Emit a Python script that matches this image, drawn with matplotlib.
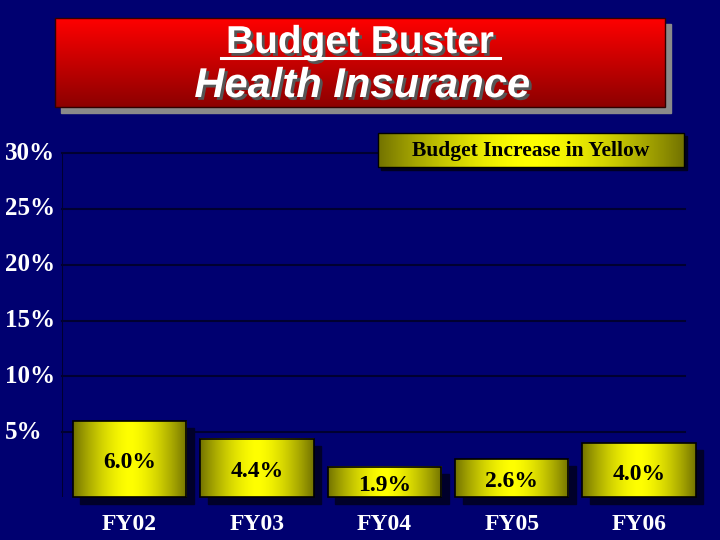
import numpy as np
import matplotlib.pyplot as plt
import matplotlib.patheffects as pe
from matplotlib.patches import Rectangle

years = ["FY02", "FY03", "FY04", "FY05", "FY06"]
increase = [6.0, 4.4, 1.9, 2.6, 4.0]
yticks = [5, 10, 15, 20, 25, 30]
ytick_labels = ["5%", "10%", "15%", "20%", "25%", "30%"]

BG = "#000070"
GRID = "#000030"
W, H = 720, 540
FLOOR = -0.8  # pseudo-3D floor below zero

fig = plt.figure(figsize=(7.2, 5.4), dpi=100)
fig.patch.set_facecolor(BG)


def px_axes(x0, y0, x1, y1):
    # pixel box (top-left origin) -> figure fraction
    return [x0 / W, 1 - y1 / H, (x1 - x0) / W, (y1 - y0) / H]


def yellow_grad(n=256):
    t = np.linspace(-1, 1, n)
    k = 1 - 0.55 * np.abs(t) ** 1.6
    img = np.zeros((2, n, 3))
    img[..., 0] = k
    img[..., 1] = k
    return img


serif = dict(family="Liberation Serif", fontweight="bold")

# ---- chart ----
ax = fig.add_axes(px_axes(62, 153, 685, 497))
ax.set_facecolor(BG)
for s in ax.spines.values():
    s.set_visible(False)
ax.axvline(-0.53, color=GRID, lw=1.5)
for t in yticks:
    ax.axhline(t, color=GRID, lw=1.5, zorder=0, clip_on=False)
ax.set_yticks([])
ax.set_xticks(range(len(years)))
ax.set_xticklabels(years, **serif)
ax.tick_params(axis="x", length=0, pad=12, colors="white", labelsize=17)
for t, lab in zip(yticks, ytick_labels):
    ax.annotate(lab, xy=(5, t), xycoords=("figure pixels", "data"), color="white",
                fontsize=18, ha="left", va="center", annotation_clip=False, **serif)

bw = 0.89
grad = yellow_grad()
for i, v in enumerate(increase):
    x0 = i - bw / 2
    h = v - FLOOR
    ax.add_patch(Rectangle((x0 + 0.06, FLOOR - 0.6), bw, h, color="#00002a",
                           zorder=2, clip_on=False))
    r = Rectangle((x0, FLOOR), bw, h, facecolor="none", edgecolor="black", lw=1.2,
                  zorder=4, clip_on=False)
    ax.add_patch(r)
    bim = ax.imshow(grad, extent=(x0, x0 + bw, FLOOR, v), aspect="auto", zorder=3)
    bim.set_clip_on(False)
    bim.set_clip_path(r)
    ax.text(i, (v + FLOOR) / 2 - 0.35, f"{v:.1f}%", color="black", fontsize=17,
            ha="center", va="center", zorder=5, **serif)
ax.set_xlim(-0.53, 4.36)
ax.set_ylim(FLOOR, 30)

# ---- overlay: title and legend box ----
tax = fig.add_axes([0, 0, 1, 1])
tax.set_xlim(0, W)
tax.set_ylim(H, 0)
tax.axis("off")
tax.patch.set_alpha(0)

tax.add_patch(Rectangle((61, 24), 610, 89, color="#8a8a8a", zorder=1))
red = np.zeros((256, 2, 3))
red[..., 0] = np.linspace(1.0, 0.55, 256)[:, None]
im = tax.imshow(red, extent=(55, 665, 107, 18), aspect="auto", zorder=2)
box = Rectangle((55, 18), 610, 89, facecolor="none", edgecolor="#300000", lw=1, zorder=3)
tax.add_patch(box)
im.set_clip_path(box)

shadow = [pe.SimplePatchShadow(offset=(2, -2), shadow_rgbFace="#555555", alpha=1.0),
          pe.Normal()]
tax.text(360, 43, "Budget Buster", color="white", fontsize=28, fontweight="bold",
         family="Liberation Sans", ha="center", va="center", zorder=5,
         path_effects=shadow)
tax.text(362, 86, "Health Insurance", color="white", fontsize=30, fontweight="bold",
         style="italic", family="Liberation Sans", ha="center", va="center", zorder=5,
         path_effects=shadow)
tax.plot([221, 500], [58, 58], color="white", lw=2.2, zorder=5)

# legend box
tax.add_patch(Rectangle((381, 136), 306, 34, color="#000020", zorder=1))
lim = tax.imshow(yellow_grad(), extent=(378, 684, 167, 133), aspect="auto", zorder=2)
lbox = Rectangle((378, 133), 306, 34, facecolor="none", edgecolor="black", lw=1, zorder=3)
tax.add_patch(lbox)
lim.set_clip_path(lbox)
tax.text(531, 151, "Budget Increase in Yellow", color="black", fontsize=15.5,
         ha="center", va="center", zorder=4, **serif)

fig.savefig("out.png", dpi=100, facecolor=BG)
